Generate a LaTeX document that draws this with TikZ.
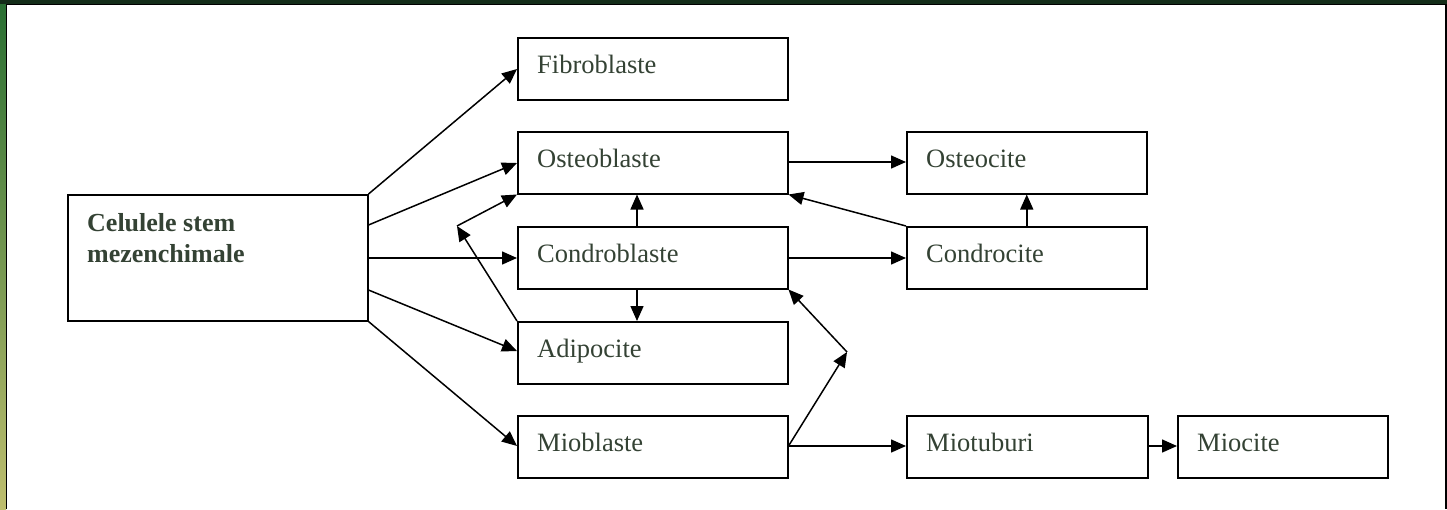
\documentclass[tikz,border=0pt]{standalone}
\usepackage{fontspec}
\setmainfont{Liberation Serif}
\usetikzlibrary{arrows.meta,calc}
\definecolor{txt}{RGB}{52,66,52}
\definecolor{gdark}{RGB}{20,45,25}
\definecolor{gmid}{RGB}{40,110,50}
\definecolor{glight}{RGB}{190,190,110}
\tikzset{
  box/.style={draw=black, line width=1.5pt, fill=white, inner sep=0pt, anchor=north west},
  lbl/.style={anchor=base west, inner sep=0pt, text=txt, font=\fontsize{26.5}{31}\selectfont},
  arr/.style={line width=1.5pt, -{Triangle[length=15pt,width=13pt]}},
}
\begin{document}
\begin{tikzpicture}[x=1pt,y=-1pt]
\useasboundingbox (0,0) rectangle (1447,509);
\fill[white] (0,0) rectangle (1447,509);
% decorative border strips
\shade[top color=gmid, bottom color=glight] (0,0) rectangle (6,509);
\fill[gdark] (0,0) rectangle (1447,4);
\draw[line width=1.5pt] (6.5,509) -- (6.5,4.5) -- (1446,4.5) -- (1446,509);

% boxes
\node[box, minimum width=300pt, minimum height=126pt] (cel) at (67,194) {};
\node[box, minimum width=270pt, minimum height=62pt] (fib) at (517,37) {};
\node[box, minimum width=270pt, minimum height=62pt] (ost) at (517,131) {};
\node[box, minimum width=270pt, minimum height=62pt] (con) at (517,226) {};
\node[box, minimum width=270pt, minimum height=62pt] (adi) at (517,321) {};
\node[box, minimum width=270pt, minimum height=62pt] (mio) at (517,415) {};
\node[box, minimum width=240pt, minimum height=62pt] (osc) at (906,131) {};
\node[box, minimum width=240pt, minimum height=62pt] (cdc) at (906,226) {};
\node[box, minimum width=241pt, minimum height=62pt] (mtb) at (906,415) {};
\node[box, minimum width=210pt, minimum height=62pt] (mcc) at (1177,415) {};

% texts
\node[lbl, font=\fontsize{26}{31}\selectfont\bfseries] (celT1) at ($(cel.north west)+(20,37)$) {Celulele stem};
\node[lbl, font=\fontsize{26}{31}\selectfont\bfseries] (celT2) at ($(cel.north west)+(20,68)$) {mezenchimale};
\node[lbl] (fibT) at ($(fib.north west)+(20,36)$) {Fibroblaste};
\node[lbl] (ostT) at ($(ost.north west)+(20,36)$) {Osteoblaste};
\node[lbl] (conT) at ($(con.north west)+(20,36)$) {Condroblaste};
\node[lbl] (adiT) at ($(adi.north west)+(20,36)$) {Adipocite};
\node[lbl] (mioT) at ($(mio.north west)+(20,36)$) {Mioblaste};
\node[lbl] (oscT) at ($(osc.north west)+(20,36)$) {Osteocite};
\node[lbl] (cdcT) at ($(cdc.north west)+(20,36)$) {Condrocite};
\node[lbl] (mtbT) at ($(mtb.north west)+(20,36)$) {Miotuburi};
\node[lbl] (mccT) at ($(mcc.north west)+(20,36)$) {Miocite};

% bend points
\coordinate (pA) at (457,226);
\coordinate (pB) at (847,352);

% connectors from the stem cells
\draw[arr] (cel.north east) -- ($(fib.north west)+(0,32)$);
\draw[arr] ($(cel.north east)+(0,31)$) -- ($(ost.north west)+(0,32)$);
\draw[arr] ($(cel.north east)+(0,64)$) -- ($(con.north west)+(0,32)$);
\draw[arr] ($(cel.north east)+(0,96)$) -- ($(adi.north west)+(0,30)$);
\draw[arr] (cel.south east) -- ($(mio.north west)+(0,31)$);

% adipocite -> osteoblaste via bend
\draw[arr] (adi.north west) -- (pA);
\draw[arr] (pA) -- (ost.south west);

% vertical ones
\draw[arr] ($(con.north west)+(120,0)$) -- ($(ost.south west)+(120,0)$);
\draw[arr] ($(con.south west)+(120,0)$) -- ($(adi.north west)+(120,0)$);
\draw[arr] (cdc.north) -- (osc.south);

% horizontals
\draw[arr] ($(ost.north east)+(0,31)$) -- ($(osc.north west)+(0,31)$);
\draw[arr] ($(con.north east)+(0,32)$) -- ($(cdc.north west)+(0,32)$);
\draw[arr] ($(mio.north east)+(0,31)$) -- ($(mtb.north west)+(0,31)$);
\draw[arr] ($(mtb.north east)+(0,31)$) -- ($(mcc.north west)+(0,31)$);

% diagonals
\draw[arr] (cdc.north west) -- (ost.south east);
\draw[arr] ($(mio.north east)+(0,31)$) -- (pB);
\draw[arr] (pB) -- (con.south east);
\end{tikzpicture}
\end{document}
